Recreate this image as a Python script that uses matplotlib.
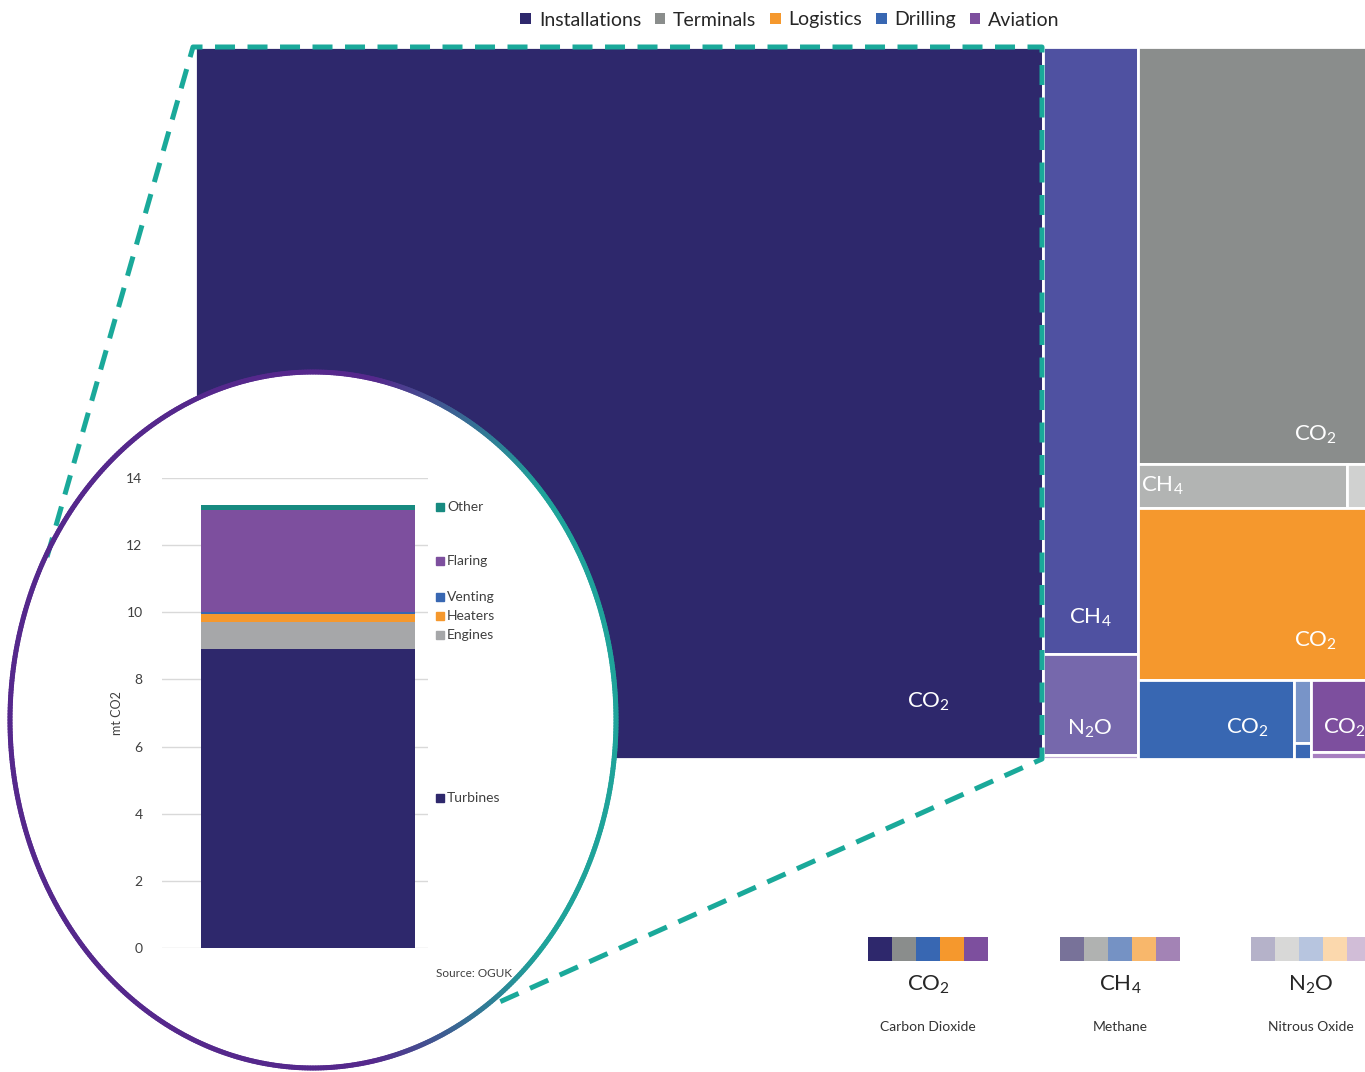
import numpy as np
import matplotlib
matplotlib.use("Agg")
import matplotlib.pyplot as plt
from matplotlib.patches import Rectangle, Ellipse, Patch
from matplotlib.collections import LineCollection
from matplotlib.colors import to_rgb

plt.rcParams["font.family"] = ["Lato", "DejaVu Sans"]
plt.rcParams["mathtext.default"] = "regular"

W, H = 1365, 1072

# treemap data (mt CO2e), one value per sector
groups = ["Installations", "Terminals", "Logistics", "Drilling", "Aviation"]
co2 = [13.20, 2.22, 0.92, 0.27, 0.11]
ch4 = [1.26, 0.20, 0.0, 0.023, 0.0]
n2o = [0.21, 0.033, 0.0, 0.006, 0.010]
minor = [0.008, 0.0, 0.0, 0.0, 0.0]
group_colors = ["#2e286c", "#8a8d8c", "#f5982d", "#3867b2", "#7d4f9e"]

# installations CO2 by source (inset)
sources = ["Turbines", "Engines", "Heaters", "Venting", "Flaring", "Other"]
source_vals = [8.91, 0.80, 0.24, 0.07, 3.04, 0.14]
source_colors = ["#2e286c", "#a6a7a9", "#f5982d", "#3867b2", "#7d4f9e", "#178a80"]
inset_ticks = [0, 2, 4, 6, 8, 10, 12, 14]

# gas key
gas_labels = ["CO$_2$", "CH$_4$", "N$_2$O"]
gas_names = ["Carbon Dioxide", "Methane", "Nitrous Oxide"]
swatches = [
    ["#2e286c", "#8a8d8c", "#3867b2", "#f5982d", "#7d4f9e"],
    ["#787299", "#b0b2b1", "#7592c4", "#f8b76b", "#a383b5"],
    ["#b5b2c9", "#d8d8d7", "#b7c5df", "#fbd8ad", "#d1bdd7"],
]

vals = {}
for i in range(len(groups)):
    vals[(i, "co2")] = co2[i]
    vals[(i, "ch4")] = ch4[i]
    vals[(i, "n2o")] = n2o[i]
    vals[(i, "minor")] = minor[i]

tile_colors = {
    (0, "co2"): "#2e286c", (0, "ch4"): "#4f51a1", (0, "n2o"): "#7668ac", (0, "minor"): "#c3aed6",
    (1, "co2"): "#8a8d8c", (1, "ch4"): "#b2b4b3", (1, "n2o"): "#d0d1d0",
    (2, "co2"): "#f5982d",
    (3, "co2"): "#3867b2", (3, "ch4"): "#7894c8", (3, "n2o"): "#3a68b4",
    (4, "co2"): "#7d4f9e", (4, "n2o"): "#a77fc0",
}
tile_text = {"co2": "CO$_2$", "ch4": "CH$_4$", "n2o": "N$_2$O"}
# where each label sits inside its tile (fraction of width, height)
label_at = {
    (0, "co2"): (0.865, 0.92), (0, "ch4"): (0.5, 0.94), (0, "n2o"): (0.5, 0.74),
    (1, "co2"): (0.73, 0.93), (1, "ch4"): (0.12, 0.5),
    (2, "co2"): (0.73, 0.77), (3, "co2"): (0.70, 0.6), (4, "co2"): (0.47, 0.66),
}

I, T, L, D, A = range(5)
tree = ("h", [
    ("h", [(I, "co2"), ("v", [(I, "ch4"), (I, "n2o"), (I, "minor")])]),
    ("v", [
        ("v", [(T, "co2"), ("h", [(T, "ch4"), (T, "n2o")])]),
        (L, "co2"),
        ("h", [("h", [(D, "co2"), ("v", [(D, "ch4"), (D, "n2o")])]),
               ("v", [(A, "co2"), (A, "n2o")])]),
    ]),
])


def total(node):
    if node[0] in ("h", "v"):
        return sum(total(k) for k in node[1])
    return vals[node]


def layout(node, x, y, w, h, out):
    if node[0] in ("h", "v"):
        tot = total(node)
        pos = 0.0
        for k in node[1]:
            f = total(k) / tot
            if node[0] == "h":
                layout(k, x + pos * w, y, f * w, h, out)
            else:
                layout(k, x, y + pos * h, w, f * h, out)
            pos += f
    else:
        out.append((node, x, y, w, h))


fig = plt.figure(figsize=(W / 100, H / 100), dpi=100)

# ---- treemap
tm = fig.add_axes([195 / W, 1 - 759 / H, (1381 - 195) / W, (759 - 47) / H])
tm.set_xlim(0, 1)
tm.set_ylim(1, 0)
tm.axis("off")
rects = []
layout(tree, 0, 0, 1, 1, rects)
for key, x, y, w, h in rects:
    tm.add_patch(Rectangle((x, y), w, h, facecolor=tile_colors[key],
                           edgecolor="white", lw=2))
    if key in label_at:
        fx, fy = label_at[key]
        tm.text(x + fx * w, y + fy * h, tile_text[key[1]], color="white",
                fontsize=16, ha="center", va="center")

# top legend
handles = [Patch(facecolor=c, edgecolor="none") for c in group_colors]
fig.legend(handles, groups, loc="center", bbox_to_anchor=(790 / W, 1 - 20 / H),
           ncol=5, frameon=False, fontsize=14, handlelength=0.55, handleheight=0.55,
           handletextpad=0.4, columnspacing=0.7, labelcolor="#262626")

# ---- overlay: dashed zoom frame and circle
ov = fig.add_axes([0, 0, 1, 1], zorder=1)
ov.set_xlim(0, W)
ov.set_ylim(H, 0)
ov.axis("off")
ov.patch.set_visible(False)
teal = "#1aa99a"
ov.plot([47, 193, 1042, 1042, 495], [557, 47, 47, 759, 1004], color=teal, lw=3.6,
        ls=(0, (4, 2.5)), solid_joinstyle="miter")

cx, cy, rx, ry = 313, 720, 303, 348
ov.add_patch(Ellipse((cx, cy), 2 * rx, 2 * ry, facecolor="white", edgecolor="none"))
t = np.linspace(0, 2 * np.pi, 721)
ex = cx + rx * np.cos(t)
ey = cy - ry * np.sin(t)
pts = np.column_stack([ex, ey]).reshape(-1, 1, 2)
segs = np.concatenate([pts[:-1], pts[1:]], axis=1)
tm_mid = (t[:-1] + t[1:]) / 2
wgt = np.clip((np.cos(tm_mid) - 0.2) / 0.55, 0, 1)[:, None]
c_purple = np.array(to_rgb("#55288c"))
c_teal = np.array(to_rgb("#1fa39a"))
cols = c_purple * (1 - wgt) + c_teal * wgt
ov.add_collection(LineCollection(segs, colors=cols, linewidths=3.6, capstyle="round"))

# ---- inset stacked bar
ax = fig.add_axes([162 / W, 1 - 948 / H, (428 - 162) / W, (948 - 478) / H], zorder=2)
ax.patch.set_visible(False)
ax.set_ylim(0, 14)
ax.set_xlim(-0.546, 0.449)
bottom = 0.0
mids = []
for name, v, c in zip(sources, source_vals, source_colors):
    ax.bar(0, v, width=0.8, bottom=bottom, color=c, zorder=2)
    mids.append(bottom + v / 2)
    bottom += v
ax.set_yticks(inset_ticks)
ax.tick_params(axis="y", length=0, labelsize=10, labelcolor="#404040", pad=14)
ax.set_xticks([])
for s in ax.spines.values():
    s.set_visible(False)
ax.grid(axis="y", color="#d9d9d9", lw=1, zorder=0)
ax.set_ylabel("mt CO2", fontsize=9, color="#404040")
ax.yaxis.set_label_coords((123 - 162) / 266, 0.5)

# series labels next to the bar, pushed apart when they collide
gap = 0.567
ly = []
for m in mids:
    ly.append(max(m, ly[-1] + gap) if ly else m)
for name, c, yy in zip(sources, source_colors, ly):
    ax.plot(0.493, yy, marker="s", ms=6, color=c, clip_on=False, zorder=3)
    ax.text(0.52, yy, name, fontsize=10, color="#404040", va="center", ha="left",
            clip_on=False)
ax.text(0.48, -0.75, "Source: OGUK", fontsize=8.5, color="#404040", va="center",
        ha="left", clip_on=False)

# ---- gas colour key
for k, cx_g in enumerate([928, 1120, 1311]):
    ka = fig.add_axes([(cx_g - 60) / W, 1 - 961 / H, 120 / W, 24 / H])
    ka.bar(range(5), 1, width=1, align="edge", color=swatches[k], edgecolor="none")
    ka.set_xlim(0, 5)
    ka.set_ylim(0, 1)
    ka.axis("off")
    fig.text(cx_g / W, 1 - 985 / H, gas_labels[k], fontsize=16, color="#262626",
             ha="center", va="center")
    fig.text(cx_g / W, 1 - 1027 / H, gas_names[k], fontsize=10, color="#333333",
             ha="center", va="center")

fig.savefig("out.png", dpi=100)
